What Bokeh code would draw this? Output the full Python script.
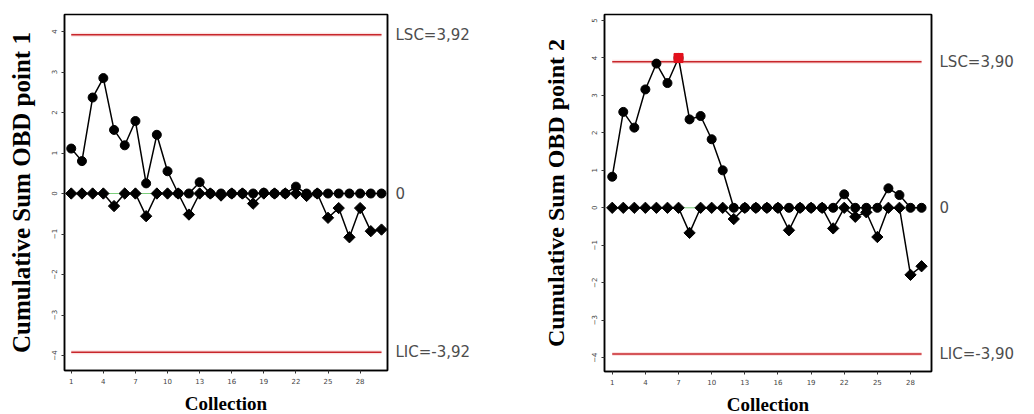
import numpy as np
from bokeh.plotting import figure
from bokeh.layouts import row
from bokeh.models import FixedTicker, LinearAxis, Range1d
from bokeh.embed import file_html
from bokeh.resources import INLINE

# ---------------- data ----------------
collection1 = list(range(1, 31))
upper1 = [1.11, 0.80, 2.37, 2.85, 1.57, 1.19, 1.79, 0.25, 1.45, 0.55,
          0.0, 0.0, 0.28, 0.0, 0.0, 0.0, 0.0, 0.0, 0.02, 0.0,
          0.0, 0.17, 0.0, 0.0, 0.0, 0.0, 0.0, 0.0, 0.0, 0.0]
lower1 = [0.0, 0.0, 0.0, 0.0, -0.31, 0.0, 0.0, -0.56, 0.0, 0.0,
          0.0, -0.52, 0.0, 0.0, -0.05, 0.0, 0.0, -0.25, 0.0, 0.0,
          0.0, 0.0, -0.06, 0.0, -0.60, -0.36, -1.08, -0.36, -0.93, -0.89]
lsc1, lic1 = 3.92, -3.92
labels1 = ["LIC=-3,92", "0", "LSC=3,92"]

collection2 = list(range(1, 30))
upper2 = [0.83, 2.56, 2.14, 3.16, 3.85, 3.33, 4.00, 2.36, 2.45, 1.83,
          1.00, 0.0, 0.0, 0.0, 0.0, 0.0, 0.0, 0.0, 0.0, 0.0,
          0.0, 0.36, 0.0, 0.0, 0.0, 0.52, 0.34, 0.0, 0.0]
lower2 = [0.0, 0.0, 0.0, 0.0, 0.0, 0.0, 0.0, -0.67, 0.0, 0.0,
          0.0, -0.30, 0.0, 0.0, 0.0, 0.0, -0.60, 0.0, 0.0, 0.0,
          -0.55, 0.0, -0.24, -0.12, -0.78, 0.0, 0.0, -1.79, -1.56]
lsc2, lic2 = 3.90, -3.90
labels2 = ["LIC=-3,90", "0", "LSC=3,90"]
out_of_control2 = [7]

x_ticks = [1, 4, 7, 10, 13, 16, 19, 22, 25, 28]
y_ticks1 = [-4, -3, -2, -1, 0, 1, 2, 3, 4]
y_ticks2 = [-4, -3, -2, -1, 0, 1, 2, 3, 4, 5]


def panel(xs, up, lo, lsc, lic, labels, ylabel, xr, yr, yticks,
          fw, fh, bl, br, ylab_size, ylab_standoff, flagged=None):
    p = figure(frame_width=fw, frame_height=fh, min_border_left=bl,
               min_border_right=br, min_border_top=14, min_border_bottom=44,
               x_range=Range1d(*xr), y_range=Range1d(*yr),
               output_backend="svg", toolbar_location=None)
    p.grid.visible = False
    p.background_fill_color = "white"
    p.border_fill_color = "white"
    p.outline_line_color = "black"
    p.outline_line_width = 1.5

    # axes
    p.xaxis.ticker = FixedTicker(ticks=x_ticks)
    p.yaxis.ticker = FixedTicker(ticks=yticks)
    for ax in (p.xaxis[0], p.yaxis[0]):
        ax.axis_line_color = "black"
        ax.axis_line_width = 1.5
        ax.major_tick_line_color = "#333333"
        ax.major_tick_out = 3
        ax.major_tick_in = 0
        ax.minor_tick_line_color = None
        ax.major_label_text_font = "DejaVu Sans"
        ax.major_label_text_font_size = "7px"
        ax.major_label_text_color = "#444444"
        ax.major_label_standoff = 4
        ax.axis_label_text_font = "Liberation Serif"
        ax.axis_label_text_font_style = "bold"
        ax.axis_label_text_color = "black"
    p.yaxis.major_label_orientation = "vertical"
    p.xaxis.axis_label = "Collection"
    p.xaxis.axis_label_text_font_size = "19px"
    p.xaxis.axis_label_standoff = 6
    p.yaxis.axis_label = ylabel
    p.yaxis.axis_label_text_font_size = ylab_size
    p.yaxis.axis_label_standoff = ylab_standoff

    right = LinearAxis(ticker=FixedTicker(ticks=[lic, 0, lsc]),
                       major_label_overrides={lic: labels[0], 0: labels[1], lsc: labels[2]})
    right.major_tick_line_color = None
    right.minor_tick_line_color = None
    right.axis_line_color = "black"
    right.axis_line_width = 1.5
    right.major_label_text_font = "DejaVu Sans"
    right.major_label_text_font_size = "15px"
    right.major_label_text_color = "#4d4d4d"
    right.major_label_standoff = 2
    p.add_layout(right, "right")

    x0, x1 = xs[0], xs[-1]
    # control limits
    for v in (lsc, lic):
        p.line([x0, x1], [v, v], line_color="#fbe1e1", line_width=4)
        p.line([x0, x1], [v, v], line_color="#c8262b", line_width=1.5)
    # center line
    p.line([x0, x1], [0, 0], line_color="#7ccf7c", line_width=1)

    # series
    p.line(xs, up, line_color="black", line_width=1.5)
    p.line(xs, lo, line_color="black", line_width=1.5)
    p.scatter(xs, up, marker="circle", size=9, fill_color="black", line_color="black")
    p.scatter(xs, lo, marker="square", angle=np.pi / 4, size=8,
              fill_color="black", line_color="black")
    if flagged:
        fx = [xs[i - 1] for i in flagged]
        fy = [up[i - 1] for i in flagged]
        p.scatter(fx, fy, marker="square", size=9, fill_color="#e3101c",
                  line_color="#e3101c")
    return p


p1 = panel(collection1, upper1, lower1, lsc1, lic1, labels1,
           "Cumulative Sum OBD point 1", (0.37, 30.56), (-4.37, 4.42), y_ticks1,
           323, 356, 64, 143, "25px", 14)
p2 = panel(collection2, upper2, lower2, lsc2, lic2, labels2,
           "Cumulative Sum OBD point 2", (0.30, 29.9), (-4.37, 5.16), y_ticks2,
           327, 357, 74, 103, "24px", 20, flagged=out_of_control2)

layout = row(p1, p2, spacing=0)
open("out.html", "w").write(file_html(layout, INLINE))
